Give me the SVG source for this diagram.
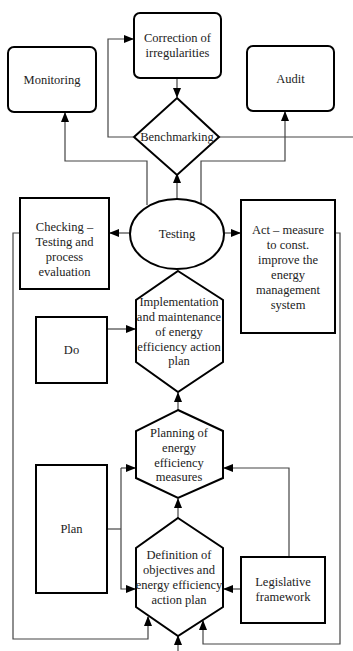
<svg xmlns="http://www.w3.org/2000/svg" width="353" height="651" viewBox="0 0 353 651">
<defs>
<marker id="ah" markerWidth="10" markerHeight="8" refX="9" refY="4" orient="auto" markerUnits="userSpaceOnUse">
<path d="M0,0 L10,4 L0,8 Z" fill="#000"/>
</marker>
<style>
.n{fill:#fff;stroke:#000;stroke-width:2}
.c{fill:none;stroke:#444;stroke-width:1.2}
.a{marker-end:url(#ah)}
.t{font-family:"Liberation Serif","Tinos","Times New Roman","DejaVu Serif",serif;font-size:12.5px;fill:#222;text-anchor:middle}
</style>
</defs>
<rect width="353" height="651" fill="#fff"/>
<g id="connectors">
<path class="c a" d="M177,78 V97"/>
<path class="c a" d="M133,137 H108 V39 H133"/>
<path class="c" d="M219,137 H353"/>
<path class="c a" d="M147,205 V161 H65 V113"/>
<path class="c a" d="M201,205 V161 H285 V112"/>
<path class="c a" d="M177,200 V174"/>
<path class="c a" d="M130,233 H110"/>
<path class="c a" d="M224,233 H240"/>
<path class="c a" d="M20,233 H13 V639 H148 V617"/>
<path class="c a" d="M335,233 H340 V644 H203 V621"/>
<path class="c a" d="M107,329 H135"/>
<path class="c a" d="M178,410 V393"/>
<path class="c a" d="M178,518 V499"/>
<path class="c" d="M107,529 H121"/>
<path class="c a" d="M121,468 V589 H135"/>
<path class="c a" d="M121,468 H135"/>
<path class="c a" d="M289,557 V468 H224"/>
<path class="c a" d="M241,589 H224"/>
<path class="c a" d="M178,651 V636"/>
</g>
<g class="t">
<g id="correction">
<rect class="n" x="134" y="13" width="87" height="65" rx="6"/>
<text x="177.5" y="42">Correction of</text>
<text x="177.5" y="57">irregularities</text>
</g>
<g id="monitoring">
<rect class="n" x="8" y="47" width="88" height="65" rx="6"/>
<text x="52" y="84">Monitoring</text>
</g>
<g id="audit">
<rect class="n" x="247" y="46" width="87" height="65" rx="6"/>
<text x="290.5" y="83">Audit</text>
</g>
<g id="benchmarking">
<path class="n" d="M177,98 L219,137 L177,175 L134,137 Z"/>
<text x="177" y="141">Benchmarking</text>
</g>
<g id="testing">
<ellipse class="n" cx="177" cy="234" rx="47" ry="35"/>
<text x="177" y="238">Testing</text>
</g>
<g id="checking">
<rect class="n" x="20" y="198" width="89" height="91"/>
<text x="64.5" y="231">Checking –</text>
<text x="64.5" y="246">Testing and</text>
<text x="64.5" y="261">process</text>
<text x="64.5" y="276">evaluation</text>
</g>
<g id="act">
<rect class="n" x="241" y="200" width="94" height="133"/>
<text x="288" y="234">Act – measure</text>
<text x="288" y="249">to const.</text>
<text x="288" y="264">improve the</text>
<text x="288" y="279">energy</text>
<text x="288" y="294">management</text>
<text x="288" y="309">system</text>
</g>
<g id="implementation">
<path class="n" d="M178,271 L223,300 L223,362 L178,392 L136,362 L136,300 Z"/>
<text x="179" y="306">Implementation</text>
<text x="179" y="321">and maintenance</text>
<text x="179" y="336">of energy</text>
<text x="179" y="351">efficiency action</text>
<text x="179" y="365">plan</text>
</g>
<g id="do">
<rect class="n" x="36" y="317" width="71" height="66"/>
<text x="71.5" y="354">Do</text>
</g>
<g id="planning">
<path class="n" d="M178,410 L223,431 L223,478 L178,498 L136,478 L136,431 Z"/>
<text x="179" y="437">Planning of</text>
<text x="179" y="452">energy</text>
<text x="179" y="467">efficiency</text>
<text x="179" y="481">measures</text>
</g>
<g id="plan">
<rect class="n" x="36" y="465" width="71" height="128"/>
<text x="71.5" y="533">Plan</text>
</g>
<g id="definition">
<path class="n" d="M178,518 L223,548 L223,607 L178,636 L136,607 L136,548 Z"/>
<text x="179" y="559">Definition of</text>
<text x="179" y="574">objectives and</text>
<text x="179" y="589">energy efficiency</text>
<text x="179" y="604">action plan</text>
</g>
<g id="legislative">
<rect class="n" x="241" y="557" width="84" height="66"/>
<text x="283" y="586">Legislative</text>
<text x="283" y="601">framework</text>
</g>
</g>
</svg>
